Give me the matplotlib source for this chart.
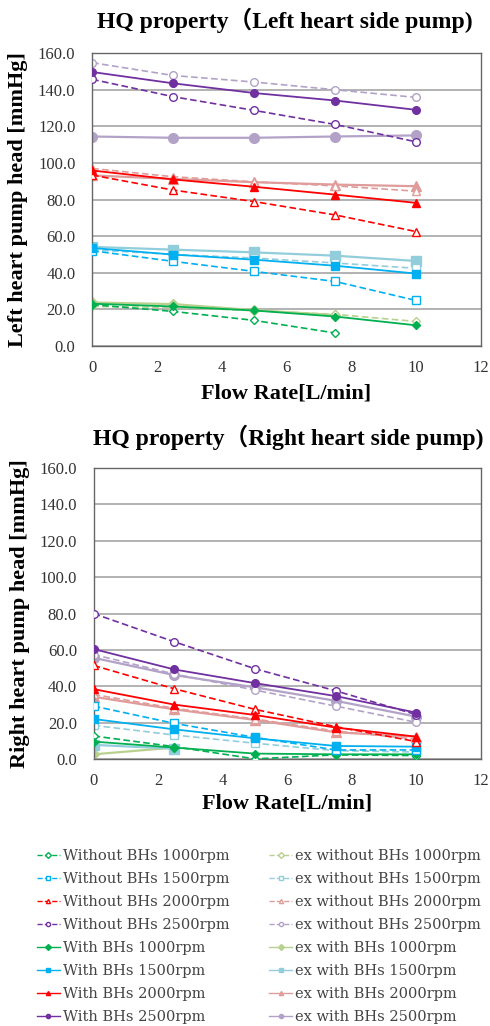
import numpy as np
import matplotlib
matplotlib.use("Agg")
import matplotlib.pyplot as plt
from matplotlib.lines import Line2D

nan = np.nan

flow = [0, 2.5, 5, 7.5, 10]
rpms = [1000, 1500, 2000, 2500]

# left heart side pump, one list per rpm (1000, 1500, 2000, 2500)
left_without = [
    [22.5, 18.8, 13.9, 7.0, nan],
    [52.0, 46.2, 40.7, 35.2, 24.8],
    [93.4, 85.2, 78.9, 71.6, 62.5],
    [145.8, 136.3, 128.8, 121.1, 111.6],
]
left_with = [
    [23.0, 21.5, 19.3, 16.0, 11.2],
    [53.5, 49.9, 47.1, 43.8, 39.5],
    [95.9, 91.0, 87.0, 82.7, 78.2],
    [149.8, 143.6, 138.3, 134.2, 129.1],
]
left_ex_without = [
    [21.5, 21.0, 19.2, 17.2, 13.3],
    [52.5, 50.0, 48.0, 45.3, 42.4],
    [97.0, 92.5, 89.7, 87.5, 84.6],
    [154.9, 147.9, 144.3, 140.1, 135.9],
]
left_ex_with = [
    [23.7, 22.8, 19.5, 16.8, nan],
    [54.1, 52.6, 51.1, 49.3, 46.4],
    [93.2, 91.3, 89.5, 88.2, 87.3],
    [114.5, 113.8, 113.8, 114.5, 115.1],
]

# right heart side pump
right_without = [
    [12.8, 6.9, 0.2, 2.4, 2.0],
    [29.2, 19.7, 12.0, 5.1, 5.1],
    [51.5, 38.7, 27.4, 17.9, 9.7],
    [80.0, 64.5, 49.7, 37.6, 24.5],
]
right_with = [
    [9.7, 6.4, 3.1, 2.7, 2.7],
    [22.1, 16.4, 11.5, 7.3, 6.9],
    [38.5, 30.0, 24.3, 17.4, 12.4],
    [60.5, 49.3, 41.8, 34.7, 25.6],
]
right_ex_without = [
    [nan, nan, nan, nan, nan],
    [18.6, 13.3, 8.8, 4.7, 4.0],
    [35.6, 28.0, 22.1, 15.5, 11.0],
    [57.5, 46.8, 38.0, 29.2, 20.3],
]
right_ex_with = [
    [2.7, 6.4, nan, nan, nan],
    [7.9, 5.8, nan, nan, nan],
    [34.3, 27.4, 21.6, 14.8, 12.4],
    [55.7, 46.2, 39.5, 32.1, 23.4],
]

colors = ["#00b050", "#00b0f0", "#ff0000", "#7030a0"]
ex_colors = ["#b9d18f", "#92cddc", "#df9c9a", "#b3a2c7"]
markers = ["D", "s", "^", "o"]
msizes = [4, 5.5, 5.5, 5.5]

SERIF = ["Liberation Serif", "Noto Sans CJK JP"]
plt.rcParams["font.family"] = SERIF


def draw_panel(ax, without, with_, ex_without, ex_with):
    handles = {}
    for i, rpm in enumerate(rpms):
        h = ax.plot(flow, ex_with[i], color=ex_colors[i], lw=1.6, marker=markers[i],
                    ms=msizes[i] + 1.5, mfc=ex_colors[i], mec=ex_colors[i], zorder=2)[0]
        handles[("ex_with", rpm)] = h
        h = ax.plot(flow, ex_without[i], color=ex_colors[i], lw=1.2, ls=(0, (4, 2)),
                    marker=markers[i], ms=msizes[i], mfc="white", mec=ex_colors[i], zorder=2)[0]
        handles[("ex_without", rpm)] = h
    for i, rpm in enumerate(rpms):
        h = ax.plot(flow, without[i], color=colors[i], lw=1.2, ls=(0, (4, 2)),
                    marker=markers[i], ms=msizes[i], mfc="white", mec=colors[i], zorder=3)[0]
        handles[("without", rpm)] = h
        h = ax.plot(flow, with_[i], color=colors[i], lw=1.3, marker=markers[i],
                    ms=msizes[i], mfc=colors[i], mec=colors[i], zorder=3)[0]
        handles[("with", rpm)] = h

    ax.set_xlim(0, 12)
    ax.set_ylim(0, 160)
    ax.set_xticks(range(0, 13, 2))
    ax.set_yticks(range(0, 161, 20))
    ax.set_yticklabels([f"{v:.1f}" for v in range(0, 161, 20)])
    ax.yaxis.grid(True, color="#a6a6a6", lw=1.2)
    ax.set_axisbelow(True)
    ax.tick_params(length=0, labelsize=12, labelcolor="#333333")
    ax.tick_params(axis="x", pad=10)
    ax.tick_params(axis="y", pad=12)
    for sp in ax.spines.values():
        sp.set_color("#666666")
        sp.set_linewidth(1.0)
    return handles


fig = plt.figure(figsize=(4.9, 10.26), dpi=100)

ax1 = fig.add_axes([0.188, 0.663, 0.793, 0.285])
h1 = draw_panel(ax1, left_without, left_with, left_ex_without, left_ex_with)
ax1.set_xlabel("Flow Rate[L/min]", fontsize=16, fontweight="bold", labelpad=6)
ax1.set_ylabel("Left heart pump head [mmHg]", fontsize=16, fontweight="bold", labelpad=7)
fig.text(0.582, 0.980, "HQ property（Left heart side pump)", ha="center", va="center",
         fontsize=17, fontweight="bold")

ax2 = fig.add_axes([0.191, 0.260, 0.790, 0.284])
draw_panel(ax2, right_without, right_with, right_ex_without, right_ex_with)
ax2.set_xlabel("Flow Rate[L/min]", fontsize=16, fontweight="bold", labelpad=3)
ax2.set_ylabel("Right heart pump head [mmHg]", fontsize=16, fontweight="bold", labelpad=7)
fig.text(0.588, 0.574, "HQ property（Right heart side pump)", ha="center", va="center",
         fontsize=17, fontweight="bold")

# legend: first column measured series, second column ex series
order = [("without", r) for r in rpms] + [("with", r) for r in rpms] + \
        [("ex_without", r) for r in rpms] + [("ex_with", r) for r in rpms]
names = {"without": "Without BHs", "with": "With BHs",
         "ex_without": "ex without BHs", "ex_with": "ex with BHs"}
leg_handles = []
leg_labels = []
for key in order:
    src = h1[key]
    leg_handles.append(Line2D([], [], color=src.get_color(), ls=src.get_linestyle(), lw=1.0,
                              marker=src.get_marker(), ms=3, mfc=src.get_markerfacecolor(),
                              mec=src.get_markeredgecolor()))
    leg_labels.append(f"{names[key[0]]} {key[1]}rpm")

fig.legend(leg_handles, leg_labels, ncol=2, loc="upper left", bbox_to_anchor=(0.06, 0.18),
           frameon=False, prop={"family": "DejaVu Serif", "size": 10.5},
           labelcolor="#444444", handlelength=1.6, handletextpad=0.2,
           columnspacing=2.7, labelspacing=0.62, borderpad=0)

fig.savefig("out.png", dpi=100)
